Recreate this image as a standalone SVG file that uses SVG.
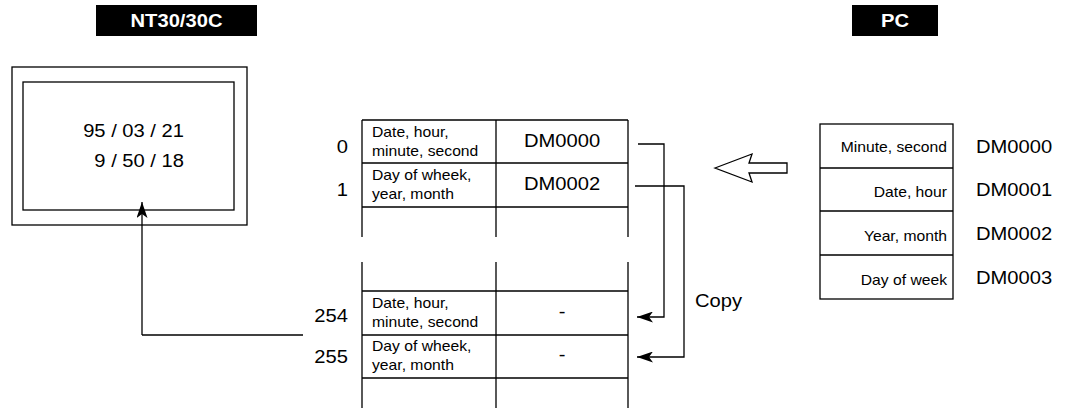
<svg xmlns="http://www.w3.org/2000/svg" width="1066" height="409" viewBox="0 0 1066 409">
<style>
  .ln{stroke:#000;stroke-width:1.3;fill:none}
  .box{stroke:#000;stroke-width:1.3;fill:#fff}
  .t18{font-family:"Liberation Sans",Arial,sans-serif;font-size:18.5px;fill:#000}
  .t14{font-family:"Liberation Sans",Arial,sans-serif;font-size:14px;fill:#000}
  .title{font-family:"Liberation Sans",Arial,sans-serif;font-size:18.5px;font-weight:bold;fill:#fff}
  .mid{text-anchor:middle}
  .end{text-anchor:end}
</style>
<defs>
  <marker id="ah" viewBox="0 0 16 11" refX="16" refY="5.5" markerWidth="16" markerHeight="11" markerUnits="userSpaceOnUse" orient="auto">
    <path d="M0,0 L16,5.5 L0,11 L4,5.5 Z" fill="#000"/>
  </marker>
</defs>
<rect width="1066" height="409" fill="#fff"/>

<g id="nt-title">
  <rect x="96" y="5" width="161" height="31" fill="#000"/>
  <text class="title mid" transform="translate(176.5,27) scale(1.09,1)">NT30/30C</text>
</g>
<g id="pc-title">
  <rect x="852" y="5" width="86" height="31" fill="#000"/>
  <text class="title mid" transform="translate(895,27) scale(1.09,1)">PC</text>
</g>

<g id="nt-display">
  <rect class="box" x="12" y="67" width="235" height="158"/>
  <rect class="box" x="23" y="82" width="211" height="128"/>
  <text class="t18 end" transform="translate(184,137) scale(1.09,1)">95 / 03 / 21</text>
  <text class="t18 end" transform="translate(184,167) scale(1.09,1)">9 / 50 / 18</text>
</g>

<g id="nt-memory">
  <path class="ln" d="M362,120 H628 M362,163 H628 M362,207 H628 M362,120 V237 M496,120 V237 M628,120 V237"/>
  <path class="ln" d="M362,291 H628 M362,335 H628 M362,378 H628 M362,262 V408 M496,262 V408 M628,262 V408"/>
  <text class="t18 end" transform="translate(348,153) scale(1.09,1)">0</text>
  <text class="t18 end" transform="translate(348,196) scale(1.09,1)">1</text>
  <text class="t18 end" transform="translate(348,322) scale(1.09,1)">254</text>
  <text class="t18 end" transform="translate(348,363) scale(1.09,1)">255</text>
  <text class="t14" transform="translate(372,137) scale(1.12,1)">Date, hour,</text>
  <text class="t14" transform="translate(372,156) scale(1.12,1)">minute, second</text>
  <text class="t14" transform="translate(372,180) scale(1.12,1)">Day of wheek,</text>
  <text class="t14" transform="translate(372,199) scale(1.12,1)">year, month</text>
  <text class="t14" transform="translate(372,308) scale(1.12,1)">Date, hour,</text>
  <text class="t14" transform="translate(372,327) scale(1.12,1)">minute, second</text>
  <text class="t14" transform="translate(372,351) scale(1.12,1)">Day of wheek,</text>
  <text class="t14" transform="translate(372,370) scale(1.12,1)">year, month</text>
  <text class="t18 mid" transform="translate(562,147) scale(1.09,1)">DM0000</text>
  <text class="t18 mid" transform="translate(562,190) scale(1.09,1)">DM0002</text>
  <text class="t18 mid" transform="translate(562,318) scale(1.09,1)">-</text>
  <text class="t18 mid" transform="translate(562,361) scale(1.09,1)">-</text>
</g>

<g id="pc-memory">
  <rect class="box" x="820" y="124" width="133" height="175"/>
  <path class="ln" d="M820,168 H953 M820,211 H953 M820,255 H953"/>
  <text class="t14 end" transform="translate(947,152) scale(1.12,1)">Minute, second</text>
  <text class="t14 end" transform="translate(947,197) scale(1.12,1)">Date, hour</text>
  <text class="t14 end" transform="translate(947,241) scale(1.12,1)">Year, month</text>
  <text class="t14 end" transform="translate(947,285) scale(1.12,1)">Day of week</text>
  <text class="t18" transform="translate(976,153) scale(1.09,1)">DM0000</text>
  <text class="t18" transform="translate(976,196) scale(1.09,1)">DM0001</text>
  <text class="t18" transform="translate(976,240) scale(1.09,1)">DM0002</text>
  <text class="t18" transform="translate(976,284) scale(1.09,1)">DM0003</text>
</g>

<g id="transfer-arrow">
  <polygon class="box" points="715,168 752,154 749,163 787,163 787,173 749,173 752,182"/>
</g>

<g id="copy-label">
  <text class="t18" transform="translate(695,307) scale(1.09,1)">Copy</text>
</g>

<g id="connectors">
  <path class="ln" d="M142,335 V202" marker-end="url(#ah)"/>
  <path class="ln" d="M303,335 H142"/>
  <path class="ln" d="M638,144 H664 V317 H637" marker-end="url(#ah)"/>
  <path class="ln" d="M635,186 H684 V357 H637" marker-end="url(#ah)"/>
</g>
</svg>
